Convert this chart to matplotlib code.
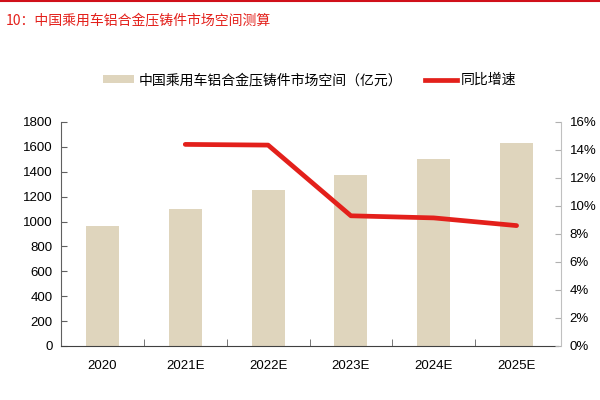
import matplotlib
matplotlib.use("Agg")
import matplotlib.pyplot as plt
from matplotlib.lines import Line2D
from matplotlib.patches import Patch
import numpy as np

years = ["2020", "2021E", "2022E", "2023E", "2024E", "2025E"]
market = [962, 1098, 1256, 1377, 1503, 1631]
growth_years = ["2021E", "2022E", "2023E", "2024E", "2025E"]
growth = [14.4, 14.35, 9.3, 9.15, 8.6]

plt.rcParams['font.family'] = ['Liberation Sans', 'Noto Sans CJK SC', 'DejaVu Sans']
cjk = ['Noto Sans CJK SC', 'DejaVu Sans']

bar_color = "#DFD5BD"
red = "#E3201B"

fig = plt.figure(figsize=(6, 4), dpi=100)
ax = fig.add_axes([61/600, 1-346/400, (558-61)/600, (346-122)/400])
x = np.arange(len(years))
ax.bar(x, market, width=0.4, color=bar_color, zorder=2)
ax.set_xlim(-0.5, len(years)-0.5)
ax.set_ylim(0, 1800)
ax.set_yticks(np.arange(0, 1801, 200))
ax.set_xticks(x)
ax.set_xticklabels(years)
ax.set_xticks(np.arange(0.5, len(years)-0.5, 1), minor=True)
ax.tick_params(axis='x', which='major', length=0, pad=10, labelsize=9.5)
ax.tick_params(axis='x', which='minor', direction='in', length=5, color='#606060')
ax.tick_params(axis='y', direction='in', length=4, color='#606060', labelsize=9.5, pad=6)
for s in ['top', 'right']:
    ax.spines[s].set_visible(False)
ax.spines['left'].set_color('#606060')
ax.spines['bottom'].set_color('#404040')

ax2 = ax.twinx()
gx = [years.index(g) for g in growth_years]
ax2.plot(gx, growth, color=red, lw=3.4, solid_capstyle='round', zorder=3)
ax2.set_ylim(0, 16)
ax2.set_yticks(np.arange(0, 17, 2))
ax2.set_yticklabels([f"{v}%" for v in range(0, 17, 2)])
ax2.tick_params(axis='y', direction='in', length=4, color='#B0B0B0', labelsize=9.5, pad=6)
for s in ['top', 'left', 'bottom']:
    ax2.spines[s].set_visible(False)
ax2.spines['right'].set_color('#C0C0C0')
ax2.spines['right'].set_position(('data', len(years)-0.5 + 0.04))

handles = [Patch(facecolor=bar_color, edgecolor='none'),
           Line2D([0], [0], color=red, lw=3.4)]
labels = ["中国乘用车铝合金压铸件市场空间（亿元）", "同比增速"]
leg = fig.legend(handles, labels, loc='center left', bbox_to_anchor=(90/600, 1-80/400),
                 ncol=2, frameon=False, handlelength=2.3, handleheight=0.5,
                 columnspacing=1.65, handletextpad=0.3, prop={'family': cjk, 'size': 10})

fig.text(6/600, 1-20/400, "10：中国乘用车铝合金压铸件市场空间测算", color=red,
         fontsize=10, family=cjk, va='center', ha='left')
fig.add_artist(Line2D([0, 1], [1-1/400, 1-1/400], transform=fig.transFigure, color='#D0101A', lw=1.5))

fig.savefig("out.png", dpi=100)
